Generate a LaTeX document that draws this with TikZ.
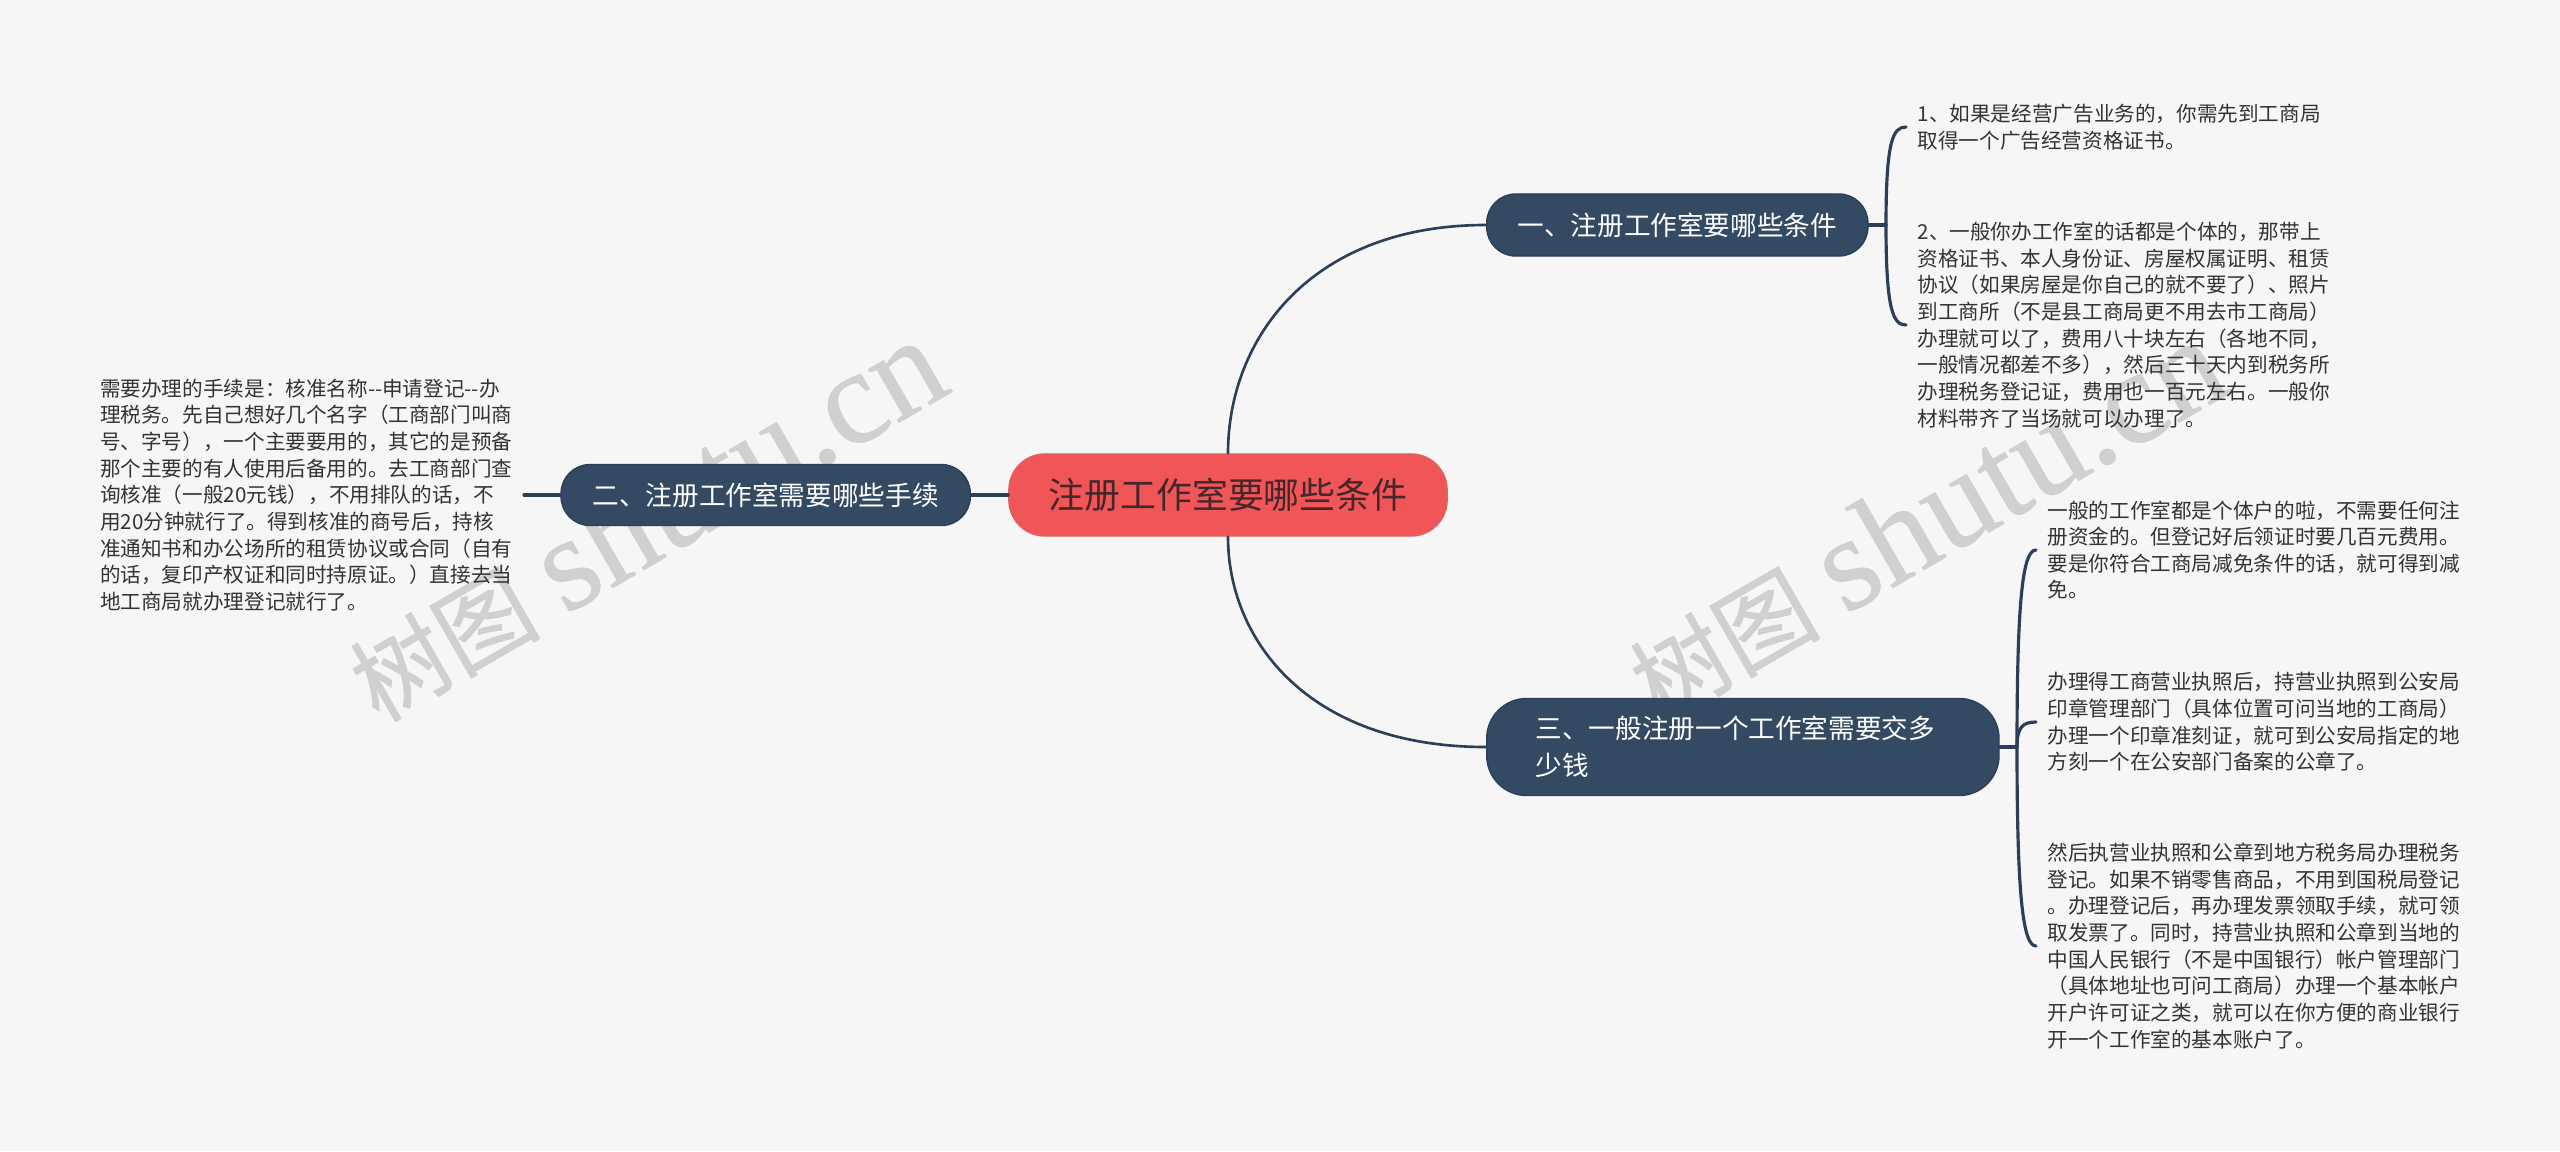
\documentclass[tikz,border=0pt]{standalone}
\usepackage{fontspec}
\newfontfamily\cjk{Noto Sans CJK SC}
\newfontfamily\wmcjk[FakeBold=0.9]{Noto Sans CJK SC}
\newfontfamily\wmserif[FakeBold=0.6]{Liberation Serif}

\definecolor{pagebg}{HTML}{F6F6F6}
\definecolor{navy}{HTML}{334A62}
\definecolor{navyline}{HTML}{2B4058}
\definecolor{rootred}{HTML}{F05557}
\definecolor{rootedge}{HTML}{DC6463}
\definecolor{roottext}{HTML}{45262A}
\definecolor{leaftext}{HTML}{333333}
\definecolor{wmgray}{HTML}{D0D0D0}

\tikzset{
  rootnode/.style={draw=rootedge,fill=rootred,text=roottext,rounded corners=0.36cm,
    minimum width=4.38cm,minimum height=0.82cm,inner sep=0pt,
    font=\cjk\fontsize{10.2}{13}\selectfont},
  branchnode/.style={draw=navyline,fill=navy,text=white,inner sep=0pt,
    font=\cjk\fontsize{7.57}{10.5}\selectfont},
  leafnode/.style={align=left,text=leaftext,inner xsep=0.11cm,inner ysep=0pt,
    font=\cjk\fontsize{5.86}{7.57}\selectfont},
  wmnode/.style={text=wmgray,rotate=30,inner sep=0pt},
  edgeline/.style={draw=navyline,line width=0.75pt},
}

\begin{document}
\begin{tikzpicture}[x=0.01cm,y=-0.01cm,line cap=round]
    % page background
    \fill[pagebg] (0,0) rectangle (2560,1151);
    \useasboundingbox (0,0) rectangle (2560,1151);

    % the two watermarks
    \foreach \x/\wmname in {645/wmA,1925/wmB} {
      \node[wmnode] (\wmname) at (\x,520)
        {{\wmcjk\fontsize{27}{27}\selectfont 树图}\hspace{4pt} {\wmserif\fontsize{38}{38}\selectfont shutu.cn}};
    }

    % root and the three branches
    \node[rootnode] (root) at (1228,495) {注册工作室要哪些条件};
    \node[branchnode,anchor=west,minimum width=3.81cm,minimum height=0.62cm,rounded corners=0.29cm]
      (bOne) at (1486,225) {一、注册工作室要哪些条件};
    \node[branchnode,anchor=east,minimum width=4.09cm,minimum height=0.61cm,rounded corners=0.29cm]
      (bTwo) at (971,495) {二、注册工作室需要哪些手续};
    \node[branchnode,anchor=west,text width=4.14cm,inner xsep=0.49cm,minimum height=0.97cm,
      rounded corners=0.4cm,align=left]
      (bThree) at (1486,747) {三、一般注册一个工作室需要交多\\少钱};

    % the forks beside the branches
    \coordinate (forkOne) at (1886,225);
    \coordinate (forkThree) at (2017,747);

    % leaves of the first branch
    \node[leafnode,anchor=west] (leafA) at (1906,127)
      {1、如果是经营广告业务的，你需先到工商局\\
       取得一个广告经营资格证书。};
    \node[leafnode,anchor=west] (leafB) at (1906,325)
      {2、一般你办工作室的话都是个体的，那带上\\
       资格证书、本人身份证、房屋权属证明、租赁\\
       协议（如果房屋是你自己的就不要了）、照片\\
       到工商所（不是县工商局更不用去市工商局）\\
       办理就可以了，费用八十块左右（各地不同，\\
       一般情况都差不多），然后三十天内到税务所\\
       办理税务登记证，费用也一百元左右。一般你\\
       材料带齐了当场就可以办理了。};

    % leaf of the second branch
    \node[leafnode,anchor=east] (leafC) at (524,495)
      {需要办理的手续是：核准名称--申请登记--办\\
       理税务。先自己想好几个名字（工商部门叫商\\
       号、字号），一个主要要用的，其它的是预备\\
       那个主要的有人使用后备用的。去工商部门查\\
       询核准（一般20元钱），不用排队的话，不\\
       用20分钟就行了。得到核准的商号后，持核\\
       准通知书和办公场所的租赁协议或合同（自有\\
       的话，复印产权证和同时持原证。）直接去当\\
       地工商局就办理登记就行了。};

    % leaves of the third branch
    \node[leafnode,anchor=west] (leafD) at (2036,550)
      {一般的工作室都是个体户的啦，不需要任何注\\
       册资金的。但登记好后领证时要几百元费用。\\
       要是你符合工商局减免条件的话，就可得到减\\
       免。};
    \node[leafnode,anchor=west] (leafE) at (2036,722)
      {办理得工商营业执照后，持营业执照到公安局\\
       印章管理部门（具体位置可问当地的工商局）\\
       办理一个印章准刻证，就可到公安局指定的地\\
       方刻一个在公安部门备案的公章了。};
    \node[leafnode,anchor=west] (leafF) at (2036,946)
      {然后执营业执照和公章到地方税务局办理税务\\
       登记。如果不销零售商品，不用到国税局登记\\
       。办理登记后，再办理发票领取手续，就可领\\
       取发票了。同时，持营业执照和公章到当地的\\
       中国人民银行（不是中国银行）帐户管理部门\\
       （具体地址也可问工商局）办理一个基本帐户\\
       开户许可证之类，就可以在你方便的商业银行\\
       开一个工作室的基本账户了。};

    % from the root to the branches
    \draw[edgeline] (root.north) .. controls +(0,-114) and +(-176,0) .. (bOne.west);
    \draw[edgeline] (root.south) .. controls +(0,105) and +(-176,0) .. (bThree.west);
    \draw[edgeline,line width=0.9pt] (root.west) -- (bTwo.east);

    % from the branches to the forks
    \draw[edgeline,line width=0.9pt] (bOne.east) -- (forkOne);
    \draw[edgeline,line width=0.9pt] (bThree.east) -- (forkThree);
    \draw[edgeline,line width=0.9pt] (bTwo.west) -- (leafC.east);

    % from the forks to the leaves
    \foreach \fork/\leaf/\bend in {
      forkOne/leafA/-85,
      forkOne/leafB/85,
      forkThree/leafD/-150,
      forkThree/leafE/-20,
      forkThree/leafF/150
    }
    \draw[edgeline,line width=0.9pt] (\fork) .. controls +(0,\bend) and +(-13,0) .. (\leaf.west);
\end{tikzpicture}
\end{document}
